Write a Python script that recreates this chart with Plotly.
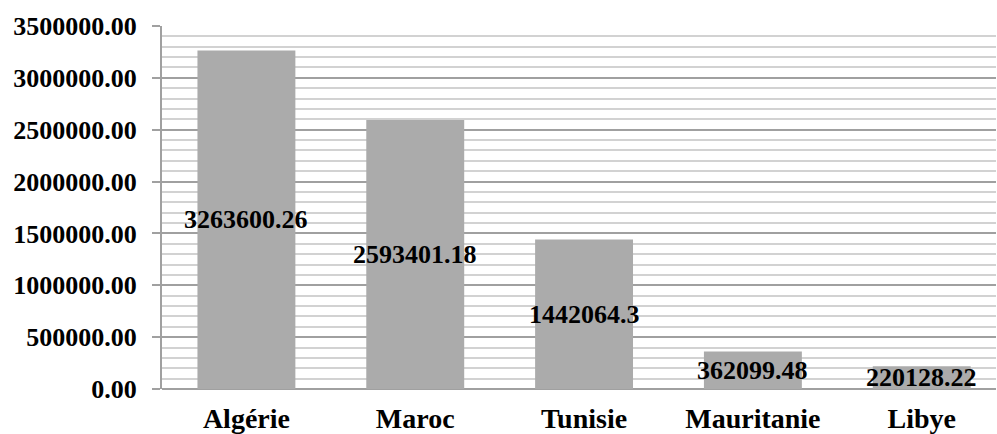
import plotly.graph_objects as go

countries = ["Algérie", "Maroc", "Tunisie", "Mauritanie", "Libye"]
values = [3263600.26, 2593401.18, 1442064.3, 362099.48, 220128.22]
value_labels = ["3263600.26", "2593401.18", "1442064.3", "362099.48", "220128.22"]
y_ticks = [0, 500000, 1000000, 1500000, 2000000, 2500000, 3000000, 3500000]

FONT = "Liberation Serif"

fig = go.Figure()
fig.add_trace(go.Bar(
    x=countries, y=values,
    marker=dict(color="#ABABAB", line=dict(width=0)),
    width=0.58,
    hoverinfo="skip",
))

for c, v, t in zip(countries, values, value_labels):
    fig.add_annotation(x=c, y=v / 2, text=t, showarrow=False,
                       font=dict(family=FONT, size=26, color="black", weight="bold"),
                       xanchor="center", yanchor="middle")

fig.update_layout(
    width=997, height=434,
    margin=dict(l=162, r=1, t=26, b=45),
    paper_bgcolor="white", plot_bgcolor="white",
    showlegend=False,
    bargap=0.42,
)
fig.update_xaxes(
    range=[-0.5, 4.44],
    showgrid=False, showline=False, ticks="",
    tickfont=dict(family=FONT, size=28, color="black", weight="bold"),
    ticklabelstandoff=10,
    automargin=False,
)
fig.update_yaxes(
    range=[0, 3500000],
    tickvals=y_ticks, tickformat=".2f",
    showgrid=True, gridcolor="#A0A0A0", gridwidth=2,
    minor=dict(dtick=100000, showgrid=True, gridcolor="#D2D2D2", gridwidth=2),
    showline=True, linecolor="#A0A0A0", linewidth=2,
    ticks="outside", ticklen=8, tickcolor="#A0A0A0", tickwidth=2,
    tickfont=dict(family=FONT, size=26, color="black", weight="bold"),
    ticklabelstandoff=10,
    zeroline=True, zerolinecolor="#A0A0A0", zerolinewidth=2,
    automargin=False,
)

fig.write_html("out.html", config={"displayModeBar": False},
               post_script="document.body.style.margin='0';document.body.style.overflow='hidden';")
